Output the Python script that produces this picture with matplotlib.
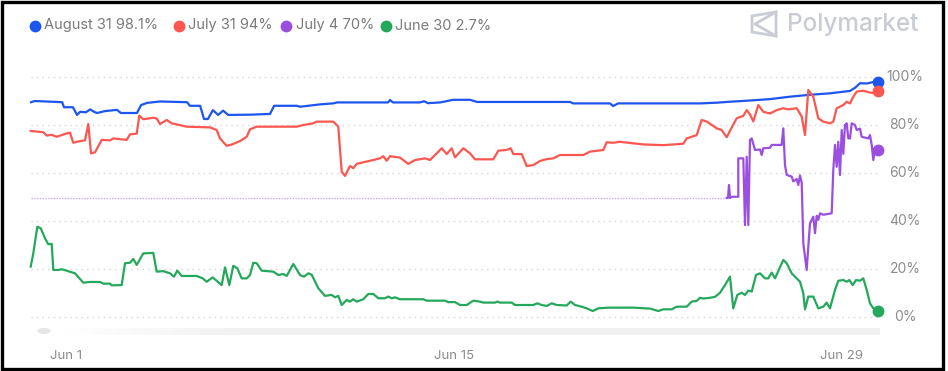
import numpy as np
import matplotlib.pyplot as plt
from matplotlib.patches import Rectangle, Circle, Polygon
from matplotlib.lines import Line2D
from matplotlib.transforms import blended_transform_factory

# x = day of June (0 = May 31), y = percent
aug_x = [-0.26, -0.12, 0.86, 0.93, 1.25, 1.40, 1.51, 1.72, 1.87, 2.01, 2.12, 2.41, 2.84, 2.98, 3.56,
         3.71, 3.92, 4.39, 5.37, 5.47, 5.84, 5.98, 6.12, 6.30, 6.49, 6.67, 6.85, 7.64, 8.36, 8.51,
         9.34, 9.44, 10.17, 10.64, 10.78, 12.62, 12.69, 12.80, 13.77, 13.92, 14.06, 14.50, 14.97,
         15.58, 15.83, 19.19, 19.30, 20.63, 20.74, 20.92, 23.88, 24.49, 24.96, 25.68, 26.41, 27.13,
         27.85, 28.57, 29.29, 29.47, 29.65, 29.91, 30.12, 30.30]
aug_y = [89.5, 90.0, 89.5, 87.4, 87.4, 84.2, 85.5, 85.3, 86.5, 85.5, 85.0, 85.8, 86.3, 85.0, 85.0,
         88.3, 89.2, 89.8, 89.5, 88.0, 88.0, 82.5, 82.5, 86.2, 84.2, 86.0, 84.2, 84.3, 84.6, 88.0,
         88.0, 87.6, 88.6, 89.0, 89.4, 89.4, 90.4, 89.4, 89.4, 89.9, 89.1, 89.4, 90.5,
         90.5, 89.6, 89.6, 89.0, 89.0, 87.9, 89.0, 89.0, 89.3, 89.7, 90.2, 90.8, 91.8,
         92.6, 93.2, 94.2, 95.5, 97.4, 97.3, 97.9, 98.1]

jul31_px = [30.7, 43.3, 46.7, 51.7, 56.7, 66.7, 70, 73.3, 80, 85, 88.3, 91, 95, 101.7, 110, 113.3,
            126.7, 130, 136.7, 139.3, 143.3, 153.3, 156.7, 160, 166.7, 171.7, 186.7, 210, 216.7,
            220, 226.7, 233.3, 240, 246.7, 250, 256.7, 296.7, 303.3, 313.3, 316.7,
            320, 333.3, 338.3, 341.7, 345, 350, 353.3, 356.7, 370, 380, 383.3, 386.7, 390, 400,
            408.3, 415, 425, 430, 441.7, 446.7, 451.7, 455, 463.3, 470, 475, 493.3, 498.3, 506.7,
            510.7, 513.3, 521.7, 526.7, 533.3, 540, 546.7, 553.3, 560, 583.3, 590, 603.3, 606.7,
            613.3, 620, 643.3, 663.3, 683.3, 686.7, 696.7, 701.7, 707, 716.7, 721.7, 726.7, 730,
            736.7, 743.3, 746.7, 750, 753.3, 758.3, 763.3, 770, 776.7, 783.3, 788, 796.7, 801.7,
            805, 808.3, 813.3, 818.3, 823.3, 830, 833.3, 836.7, 843.3, 846.7, 850, 853.3, 856.7,
            863.3, 870, 876.7, 878]
jul31_y = [77.5, 77.0, 75.6, 75.9, 75.1, 76.5, 76.8, 72.6, 73.3, 73.6, 80.4, 68.2, 68.6, 73.8, 73.6,
           74.4, 73.8, 76.1, 76.4, 83.9, 82.4, 83.0, 82.7, 80.4, 82.1, 80.7, 79.3, 79.0, 77.9,
           74.4, 71.3, 72.1, 73.3, 75.1, 78.2, 79.3, 79.3, 80.0, 80.7, 81.4,
           81.4, 81.4, 79.3, 60.5, 58.8, 62.9, 62.0, 63.8, 65.1, 66.1, 67.0, 65.1, 67.0, 66.4,
           63.8, 65.4, 66.1, 65.4, 70.3, 67.9, 70.3, 66.5, 70.3, 68.2, 65.7, 65.7, 69.3, 69.6,
           70.3, 67.9, 67.9, 62.9, 63.3, 65.0, 65.8, 66.1, 67.5, 67.5, 68.9, 69.6, 72.8,
           72.6, 73.0, 71.9, 71.6, 72.2, 74.4, 75.8, 82.1, 81.4, 78.6, 77.9, 74.9, 77.6,
           82.8, 83.8, 86.2, 84.4, 81.5, 88.3, 85.5, 84.8, 86.2, 87.0, 86.5, 87.0, 83.5,
           75.8, 94.6, 91.8, 82.8, 81.4, 80.7, 81.4, 87.0, 88.3, 89.7, 89.0, 91.8, 93.9,
           94.3, 93.5, 93.2, 94.0]

jul4_dot_px = [30.7, 726.7]
jul4_dot_y = [49.6, 49.6]
jul4_px = [726.7, 728, 729, 730, 731.7, 738.3, 738.3, 743.3, 745, 746.7, 748.3, 750, 751.7, 755, 760,
           761.7, 763.3, 770, 771.7, 781.7, 783.3, 785, 786.7, 791.7, 793.3, 796.7, 798.3, 800, 801.7,
           803.3, 806.7, 808.3, 810, 813.3, 815, 816.7, 818.3, 820, 823.3, 831.7, 833.3, 835, 836.7,
           838.3, 840, 841.7, 843.3, 845, 846.7, 848.3, 850, 851.7, 855, 856.7, 860, 861.7, 868.3,
           870, 871.7, 873.3, 875, 878.3]
jul4_y = [49.6, 49.6, 55.0, 49.6, 50.1, 50.1, 66.1, 66.1, 38.3, 66.8, 38.3, 73.8, 74.4, 69.6, 69.8,
          67.5, 70.3, 70.5, 71.7, 71.7, 78.6, 63.3, 59.2, 58.5, 56.5, 57.5, 55.0, 59.0, 56.0,
          30.7, 19.6, 29.3, 39.0, 41.8, 34.9, 42.2, 40.5, 43.2, 42.6, 43.2, 61.3, 71.7, 62.6,
          73.0, 59.2, 77.9, 68.0, 80.0, 80.7, 74.4, 74.4, 80.7, 80.0, 77.9, 78.5, 75.1, 74.4,
          75.8, 71.7, 65.4, 70.0, 69.6]

jun30_px = [30.7, 33.3, 37.3, 40.7, 45, 48.3, 51.7, 53.3, 58.3, 61.7, 66.7, 75, 83.3, 90, 100, 103.3,
            110, 111.7, 121.7, 125, 130, 133.3, 136.7, 143.3, 153.3, 156.7, 163.3, 170, 174, 177.3,
            181.7, 196.7, 202.7, 206.7, 212.7, 216.7, 221.7, 225, 229.3, 233.3, 237.3, 241.7, 246.7,
            250, 253.3, 256.7, 261.7, 273.3, 278.3, 283.3, 286.7, 293.3, 300, 304, 308.3, 311.7,
            318.3, 325, 331.7, 335, 338.3, 341.7, 346.7, 350, 353.3, 356.7, 363.3, 368.3, 373.3,
            378.3, 385, 388.3, 391.7, 395, 400, 423.3, 426.7, 445, 448.3, 455, 460, 466.7, 473.3,
            480, 483.3, 495, 497.3, 500, 511.7, 515, 533.3, 537.3, 541.7, 546.7, 551.7, 556.7,
            566.7, 570.7, 575, 581.7, 586.7, 592.7, 598.3, 608.3, 633.3, 650, 658.3, 663.3, 671.7,
            676.7, 686.7, 691.7, 696.7, 700, 703.3, 710, 715, 720, 725, 730, 733.3, 737.3, 741.7,
            745, 748.3, 751.7, 756, 760, 765, 768.3, 771.7, 775, 783.3, 786.7, 791.7, 796.7, 800,
            803.3, 805, 808.3, 813.3, 818.3, 823.3, 826.7, 830, 835, 838.3, 843.3, 846.7, 849.3,
            852.7, 856, 860, 863.3, 866.7, 870, 873.3, 878.3]
jun30_y = [21.0, 26.5, 37.6, 37.0, 32.8, 30.3, 30.5, 19.6, 19.6, 19.9, 19.3, 18.2, 14.3, 14.6, 14.6,
           13.9, 13.9, 13.2, 13.3, 22.4, 22.6, 24.2, 21.7, 26.5, 26.7, 18.9, 19.1, 18.2, 16.8, 19.3,
           17.1, 17.1, 16.1, 14.7, 16.5, 15.1, 13.3, 20.7, 13.3, 21.3, 20.3, 16.1, 16.1,
           17.5, 22.6, 22.4, 19.3, 18.9, 17.5, 17.9, 17.1, 22.1, 17.5, 16.8, 18.2, 17.6,
           12.0, 8.8, 9.2, 8.2, 8.8, 5.0, 7.1, 6.4, 7.4, 6.4, 7.4, 9.6, 9.6,
           7.8, 7.8, 8.5, 7.8, 8.2, 7.4, 7.4, 6.8, 6.8, 6.2, 6.2, 5.0, 5.0, 6.8,
           6.4, 6.0, 6.0, 6.4, 6.0, 6.0, 5.0, 5.0, 5.7, 5.0, 4.6, 5.7, 5.0,
           4.8, 6.4, 5.0, 4.3, 3.6, 2.5, 3.6, 3.9, 3.9, 3.5, 2.5, 3.2, 3.2,
           4.3, 4.3, 6.4, 6.7, 8.0, 7.7, 8.0, 8.4, 10.1, 13.3, 16.8, 3.6, 9.2, 10.1,
           9.2, 11.0, 10.6, 17.5, 18.2, 16.1, 16.1, 18.5, 16.1, 23.8, 22.4, 18.2, 16.1, 14.7,
           9.9, 3.2, 8.5, 8.5, 3.6, 4.3, 6.0, 3.6, 11.3, 15.1, 15.4, 14.7, 15.4,
           13.3, 15.4, 15.1, 16.1, 11.3, 5.7, 3.6, 2.7]


def px2day(px):
    return [1 + (p - 66) / 27.714 for p in px]


jul31_x = px2day(jul31_px)
jul4_x = px2day(jul4_px)
jul4_dot_x = px2day(jul4_dot_px)
jun30_x = px2day(jun30_px)

names = ['August 31 98.1%', 'July 31 94%', 'July 4 70%', 'June 30 2.7%']
colors = ['#1d55ef', '#fb5750', '#9b4fe0', '#24a85b']
xticks = [1, 15, 29]
xtick_labels = ['Jun 1', 'Jun 15', 'Jun 29']
yticks = [0, 20, 40, 60, 80, 100]

plt.rcParams['font.family'] = ['Inter', 'DejaVu Sans']

W, H = 948, 371
fig = plt.figure(figsize=(W / 100, H / 100), dpi=100)


def fx(px):
    return px / W


def fy(py):
    return 1 - py / H


# axes spans px 25..885 horizontally, py 60..322 vertically
ax = fig.add_axes([fx(25), fy(322), fx(885) - fx(25), fy(60) - fy(322)])
ax.set_xlim(1 + (25 - 66) / 27.714, 1 + (885 - 66) / 27.714)
ax.set_ylim((317 - 322) / 2.4, (317 - 60) / 2.4)
for s in ax.spines.values():
    s.set_visible(False)

for v in yticks:
    ax.plot([-0.26, 30.40], [v, v], color='#d6d6d6', lw=1.0, ls=(0, (1, 3)), zorder=1)

ax.plot(jul4_dot_x, jul4_dot_y, color='#c9a6f2', lw=1.0, ls=(0, (1, 1)), zorder=2)
series = [(aug_x, aug_y), (jul31_x, jul31_y), (jul4_x, jul4_y), (jun30_x, jun30_y)]
for (xs, ys), c in zip(series, colors):
    ax.plot(xs, ys, color=c, lw=1.6, zorder=3, solid_joinstyle='round')
    ax.plot(xs[-1], ys[-1], 'o', color=c, ms=7.5, zorder=4)

# y labels on the right, centred at px ~905
ax.set_yticks(yticks)
ax.set_yticklabels([])
ax.tick_params(axis='y', length=0)
ytrans = blended_transform_factory(fig.transFigure, ax.transData)
for v in yticks:
    ax.text(fx(905), v, f'{v}%', transform=ytrans, ha='center', va='center',
            fontsize=10, color='#8c8c8c')
ax.set_xticks(xticks)
ax.set_xticklabels(xtick_labels)
ax.tick_params(axis='x', length=0, pad=20, labelsize=9.5, labelcolor='#8c8c8c')

# scrollbar
grad_ax = fig.add_axes([fx(50), fy(335), fx(880) - fx(50), fy(328) - fy(335)])
grad = np.concatenate([np.linspace(1.0, 0.945, 60), np.full(200, 0.945)])
grad_ax.imshow(np.tile(grad, (2, 1)), aspect='auto', cmap='gray', vmin=0, vmax=1,
               extent=[0, 1, 0, 1])
grad_ax.axis('off')
fig.patches.append(Circle((fx(44), fy(331)), 6 / W, transform=fig.transFigure,
                          color='#e6e6e6', zorder=5))

# legend
leg_x = [35, 178.5, 286, 385.7]
for lx, name, c in zip(leg_x, names, colors):
    fig.add_artist(Line2D([fx(lx)], [fy(25.5)], marker='o', color=c, ms=7.5, lw=0))
    fig.text(fx(lx + 9.5), fy(25.5), name, color='#7b7b7b', fontsize=10.5, va='center', ha='left')

# Polymarket mark
logo_c = '#c9ccd4'
fig.patches.append(Polygon([(fx(752), fy(16)), (fx(776), fy(12)), (fx(776), fy(36)), (fx(752), fy(32))],
                           closed=True, fill=False, ec=logo_c, lw=2.0, transform=fig.transFigure))
fig.add_artist(Line2D([fx(776), fx(755), fx(776)], [fy(12), fy(24), fy(36)], color=logo_c, lw=2.0))
fig.text(fx(787), fy(25), 'Polymarket', color=logo_c, fontsize=17.5, va='center', ha='left',
         fontweight='medium')

# outer frame
fig.patches.append(Rectangle((fx(1.5), fy(368.5)), fx(943) - fx(1.5), fy(1.5) - fy(368.5),
                             transform=fig.transFigure, fill=False, ec='black', lw=2.4))

fig.savefig('out.png', dpi=100)
